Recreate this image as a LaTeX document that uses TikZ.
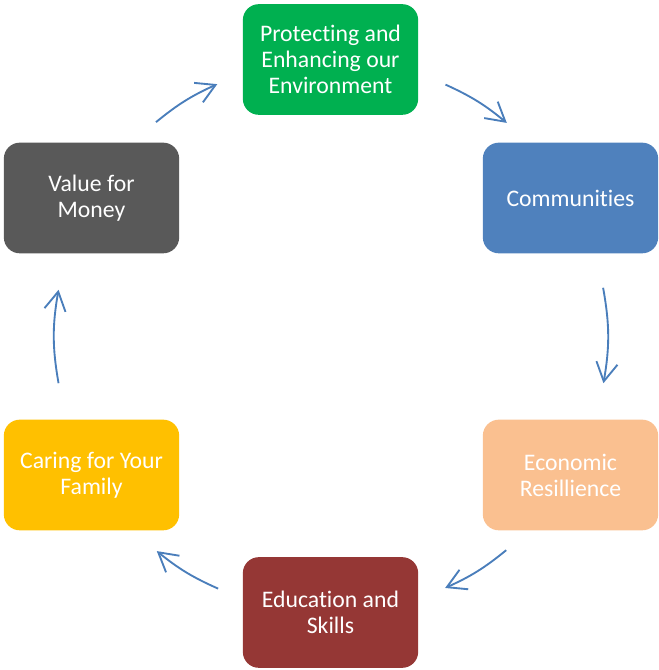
\documentclass[tikz,border=0pt]{standalone}
\usepackage{fontspec}
\setmainfont[Ligatures=NoCommon]{Carlito}
\usetikzlibrary{arrows.meta}

\definecolor{envgreen}{HTML}{00B050}
\definecolor{comblue}{HTML}{4F81BD}
\definecolor{ecopeach}{HTML}{FAC090}
\definecolor{edured}{HTML}{953735}
\definecolor{caryellow}{HTML}{FFC000}
\definecolor{vfmgray}{HTML}{595959}
\definecolor{flowblue}{HTML}{4A7EBB}

\tikzset{
  goal/.style={rounded corners=12pt, minimum width=131.5pt, minimum height=83pt,
    text=white, align=center, font=\fontsize{17.8}{19.5}\selectfont},
  flow/.style={draw=flowblue, line width=1.4pt,
    -{Straight Barb[length=14pt,width=16pt]}},
  ring/.style={bend left=30, looseness=0.91}
}

\begin{document}
\begin{tikzpicture}[x=0.75pt,y=0.75pt]
  \useasboundingbox (0,0) rectangle (659,670);

  % the six goals round the ring
  \node[goal, fill=envgreen]  (env) at (330.5,610.5) {Protecting and\\Enhancing our\\Environment};
  \node[goal, fill=comblue]   (com) at (570.5,472)   {Communities};
  \node[goal, fill=ecopeach]  (eco) at (570.5,195)   {Economic\\Resillience};
  \node[goal, fill=edured]    (edu) at (330.5,57.5)  {Education and\\Skills};
  \node[goal, fill=caryellow] (car) at (91.5,195)    {Caring for Your\\Family};
  \node[goal, fill=vfmgray]   (vfm) at (91.5,472)    {Value for\\Money};

  % ends of each arrow, picked off the ring between two goals
  \path (vfm.center) to[ring] coordinate[pos=0.345] (s1) coordinate[pos=0.597] (e1) (env.center);
  \path (env.center) to[ring] coordinate[pos=0.408] (s2) coordinate[pos=0.660] (e2) (com.center);
  \path (com.center) to[ring] coordinate[pos=0.330] (s3) coordinate[pos=0.663] (e3) (eco.center);
  \path (eco.center) to[ring] coordinate[pos=0.342] (s4) coordinate[pos=0.593] (e4) (edu.center);
  \path (edu.center) to[ring] coordinate[pos=0.400] (s5) coordinate[pos=0.652] (e5) (car.center);
  \path (car.center) to[ring] coordinate[pos=0.337] (s6) coordinate[pos=0.663] (e6) (vfm.center);

  \draw[flow] (s1) to[bend left=7.5] (e1);
  \draw[flow] (s2) to[bend left=7.5] (e2);
  \draw[flow] (s3) to[bend left=10] (e3);
  \draw[flow] (s4) to[bend left=7.5] (e4);
  \draw[flow] (s5) to[bend left=7.5] (e5);
  \draw[flow] (s6) to[bend left=10] (e6);
\end{tikzpicture}
\end{document}
